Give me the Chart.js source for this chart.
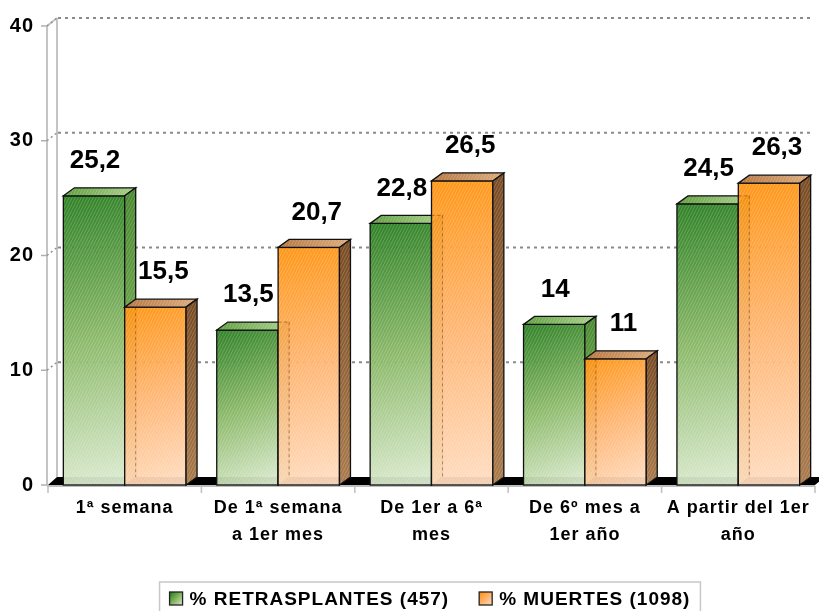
<!DOCTYPE html>
<html><head><meta charset="utf-8">
<script src="https://cdn.jsdelivr.net/npm/chart.js@4.4.1/dist/chart.umd.min.js"></script>
<style>html,body{margin:0;padding:0;background:#fff}#wrap{width:819px;height:611px;position:relative}</style>
</head><body><div id="wrap"><canvas id="c" width="819" height="611"></canvas></div>
<script>
// ---- data ----
const categories = ['1ª semana', ['De 1ª semana', 'a 1er mes'], ['De 1er a 6ª', 'mes'], ['De 6º mes a', '1er año'], ['A partir del 1er', 'año']];
const retrasplantes = [25.2, 13.5, 22.8, 14, 24.5];
const muertes = [15.5, 20.7, 26.5, 11, 26.3];
const seriesNames = ['% RETRASPLANTES (457)', '% MUERTES (1098)'];
const yTicks = [0, 10, 20, 30, 40];

// ---- styles ----
const FAMILY = "'Liberation Sans', Arial, sans-serif";
const DX = 11, DY = -8;   // bar depth
const WX = 10, WY = -8;   // wall depth
const LABEL_DX = [1, 8];  // label horizontal shift per series
const palettes = [
  { front: ['#237a1a', '#86b662', '#dcebd0'], top: ['#5f9e3e', '#a8d089'], side: ['#4a8a30', '#93c26c'] },
  { front: ['#ff9008', '#ffb36e', '#ffdcc0'], top: ['#b57642', '#dcaa7a'], side: ['#7a4c24', '#a97a4b'] }
];

let hatch = null;
function getHatch(ctx) {
  if (hatch) return hatch;
  const c = document.createElement('canvas'); c.width = 6; c.height = 6;
  const g = c.getContext('2d');
  g.strokeStyle = 'rgba(255,255,255,0.20)'; g.lineWidth = 1;
  g.beginPath(); g.moveTo(0, 6); g.lineTo(3, 0); g.moveTo(3, 6); g.lineTo(6, 0); g.stroke();
  hatch = ctx.createPattern(c, 'repeat');
  return hatch;
}

function fmt(v) { return String(v).replace('.', ','); }

function poly(ctx, pts) {
  ctx.beginPath(); ctx.moveTo(pts[0][0], pts[0][1]);
  for (let i = 1; i < pts.length; i++) ctx.lineTo(pts[i][0], pts[i][1]);
  ctx.closePath();
}

const scene = {
  id: 'scene',
  beforeDraw(chart) {
    try { chart.ctx.letterSpacing = '1px'; } catch (e) {}
  },
  beforeDatasetsDraw(chart) {
    const { ctx, chartArea: a, scales: { x, y } } = chart;
    try { ctx.letterSpacing = '0px'; } catch (e) {}
    ctx.save();
    const L = a.left - 1, R = a.right;
    // left wall edges
    ctx.strokeStyle = '#c4c4c4'; ctx.lineWidth = 2;
    ctx.beginPath();
    ctx.moveTo(L, y.getPixelForValue(40)); ctx.lineTo(L, y.getPixelForValue(0));
    ctx.moveTo(L + WX, y.getPixelForValue(40) + WY); ctx.lineTo(L + WX, y.getPixelForValue(0) + WY);
    ctx.moveTo(L, y.getPixelForValue(40)); ctx.lineTo(L + WX, y.getPixelForValue(40) + WY);
    ctx.stroke();
    // tick marks + gridlines
    yTicks.forEach(v => {
      const py = y.getPixelForValue(v);
      ctx.setLineDash([]); ctx.strokeStyle = '#b0b0b0'; ctx.lineWidth = 1.5;
      ctx.beginPath(); ctx.moveTo(L - 6, py); ctx.lineTo(L, py); ctx.stroke();
      if (v > 0) {
        ctx.strokeStyle = '#909090'; ctx.lineWidth = 1.5; ctx.setLineDash([2, 3]);
        ctx.beginPath(); ctx.moveTo(L, py); ctx.lineTo(L + WX, py + WY); ctx.stroke();
        ctx.strokeStyle = '#8a8a8a'; ctx.lineWidth = 2; ctx.setLineDash([3, 4]);
        ctx.beginPath(); ctx.moveTo(L + WX + 1, py + WY); ctx.lineTo(R - 2, py + WY); ctx.stroke();
      }
    });
    ctx.setLineDash([]);
    // floor
    const b = y.getPixelForValue(0);
    ctx.fillStyle = '#000';
    poly(ctx, [[L + 1, b], [R, b], [R + WX, b + WY], [L + WX, b + WY]]);
    ctx.fill();
    ctx.strokeStyle = '#bdbdbd'; ctx.lineWidth = 2;
    ctx.beginPath(); ctx.moveTo(L, b + 1); ctx.lineTo(R, b + 1); ctx.stroke();
    // category separators
    ctx.lineWidth = 1.5; ctx.strokeStyle = '#c0c0c0';
    for (let i = 0; i <= categories.length; i++) {
      let px;
      if (i === 0) px = a.left;
      else if (i === categories.length) px = a.right;
      else px = (x.getPixelForValue(i - 1) + x.getPixelForValue(i)) / 2;
      ctx.beginPath(); ctx.moveTo(px, b + 1); ctx.lineTo(px, b + 8); ctx.stroke();
    }
    ctx.restore();
  },
  afterDatasetsDraw(chart) {
    const { ctx } = chart;
    const metas = [chart.getDatasetMeta(0), chart.getDatasetMeta(1)];
    ctx.save();
    const pat = getHatch(ctx);
    for (let i = 0; i < categories.length; i++) {
      for (let d = 0; d < 2; d++) {
        const el = metas[d].data[i];
        const p = palettes[d];
        const x1 = el.x - el.width / 2, x2 = el.x + el.width / 2, top = el.y, base = el.base;
        // front
        const gf = ctx.createLinearGradient(x1, top, x2, base);
        gf.addColorStop(0, p.front[0]); gf.addColorStop(0.5, p.front[1]); gf.addColorStop(1, p.front[2]);
        ctx.globalAlpha = 0.94;
        ctx.fillStyle = gf; ctx.fillRect(x1, top, x2 - x1, base - top);
        ctx.globalAlpha = 1;
        ctx.fillStyle = pat; ctx.fillRect(x1, top, x2 - x1, base - top);
        // hidden edges of the previous bar seen through this one
        if (d === 1) {
          const g = metas[0].data[i];
          const gx = g.x + g.width / 2 + DX, gy = g.y + DY;
          ctx.save();
          ctx.beginPath(); ctx.rect(x1, top, x2 - x1, base - top); ctx.clip();
          ctx.strokeStyle = 'rgba(130,75,25,0.55)'; ctx.lineWidth = 1; ctx.setLineDash([3, 3]);
          ctx.beginPath();
          ctx.moveTo(gx, Math.max(gy, top)); ctx.lineTo(gx, base + DY);
          if (gy > top) { ctx.moveTo(x1, gy); ctx.lineTo(gx, gy); }
          ctx.stroke();
          ctx.restore();
        }
        ctx.strokeStyle = '#111'; ctx.lineWidth = 1.3;
        ctx.strokeRect(x1, top, x2 - x1, base - top);
        // top face
        const gt = ctx.createLinearGradient(x1, top, x2 + DX, top);
        gt.addColorStop(0, p.top[0]); gt.addColorStop(1, p.top[1]);
        poly(ctx, [[x1, top], [x2, top], [x2 + DX, top + DY], [x1 + DX, top + DY]]);
        ctx.fillStyle = gt; ctx.fill(); ctx.fillStyle = pat; ctx.fill(); ctx.stroke();
        // side face
        const gs = ctx.createLinearGradient(x2, top, x2 + DX, base);
        gs.addColorStop(0, p.side[0]); gs.addColorStop(1, p.side[1]);
        poly(ctx, [[x2, top], [x2 + DX, top + DY], [x2 + DX, base + DY], [x2, base]]);
        ctx.fillStyle = gs; ctx.fill(); ctx.fillStyle = pat; ctx.fill(); ctx.stroke();
      }
    }
    // value labels
    ctx.fillStyle = '#000';
    ctx.font = 'bold 26px ' + FAMILY;
    ctx.textAlign = 'center'; ctx.textBaseline = 'middle';
    for (let d = 0; d < 2; d++) {
      const vals = chart.data.datasets[d].data;
      metas[d].data.forEach((el, i) => {
        ctx.fillText(fmt(vals[i]), el.x + LABEL_DX[d], el.y - 35);
      });
    }
    ctx.restore();
  },
  afterDraw(chart) {
    const { ctx } = chart;
    ctx.save();
    ctx.font = 'bold 19px ' + FAMILY;
    try { ctx.letterSpacing = '1px'; } catch (e) {}
    const w = seriesNames.map(s => ctx.measureText(s).width);
    const box = 13, g1 = 7, g2 = 30;
    const total = box + g1 + w[0] + g2 + box + g1 + w[1];
    let sx = 430 - total / 2;
    const cy = 598.5;
    ctx.strokeStyle = '#c8c8c8'; ctx.lineWidth = 1.5;
    ctx.strokeRect(sx - 10, 582, total + 20, 40);
    ctx.textAlign = 'left'; ctx.textBaseline = 'middle'; ctx.fillStyle = '#000';
    for (let d = 0; d < 2; d++) {
      const p = palettes[d];
      const gb = ctx.createLinearGradient(sx, cy - 6, sx + box, cy + 7);
      gb.addColorStop(0, p.front[0]); gb.addColorStop(0.5, p.front[1]); gb.addColorStop(1, p.front[2]);
      ctx.fillStyle = gb; ctx.fillRect(sx, cy - 6.5, box, box);
      ctx.strokeStyle = '#222'; ctx.lineWidth = 1.3; ctx.strokeRect(sx, cy - 6.5, box, box);
      ctx.fillStyle = '#000';
      ctx.fillText(seriesNames[d], sx + box + g1, cy + 1);
      sx += box + g1 + w[d] + g2;
    }
    ctx.restore();
  }
};

new Chart(document.getElementById('c'), {
  type: 'bar',
  data: {
    labels: categories,
    datasets: [
      { label: seriesNames[0], data: retrasplantes, backgroundColor: 'rgba(0,0,0,0)', borderWidth: 0 },
      { label: seriesNames[1], data: muertes, backgroundColor: 'rgba(0,0,0,0)', borderWidth: 0 }
    ]
  },
  options: {
    responsive: false,
    animation: false,
    layout: { padding: { top: 21, right: 4, left: 0, bottom: 0 } },
    datasets: { bar: { categoryPercentage: 0.8, barPercentage: 1 } },
    plugins: { legend: { display: false }, tooltip: { enabled: false } },
    scales: {
      y: {
        min: 0, max: 40,
        afterBuildTicks: s => { s.ticks = yTicks.map(v => ({ value: v })); },
        ticks: { color: '#000', font: { family: FAMILY, size: 20, weight: 'bold' }, padding: 14 },
        grid: { display: false, drawTicks: false },
        border: { display: false },
        afterFit: s => { s.width = 48; }
      },
      x: {
        ticks: { color: '#000', font: { family: FAMILY, size: 18, weight: 'bold', lineHeight: '27px' }, padding: 10, maxRotation: 0, autoSkip: false },
        grid: { display: false, drawTicks: false },
        border: { display: false },
        afterFit: s => { s.height = 611 - 485; }
      }
    }
  },
  plugins: [scene]
});
</script>
</body></html>
